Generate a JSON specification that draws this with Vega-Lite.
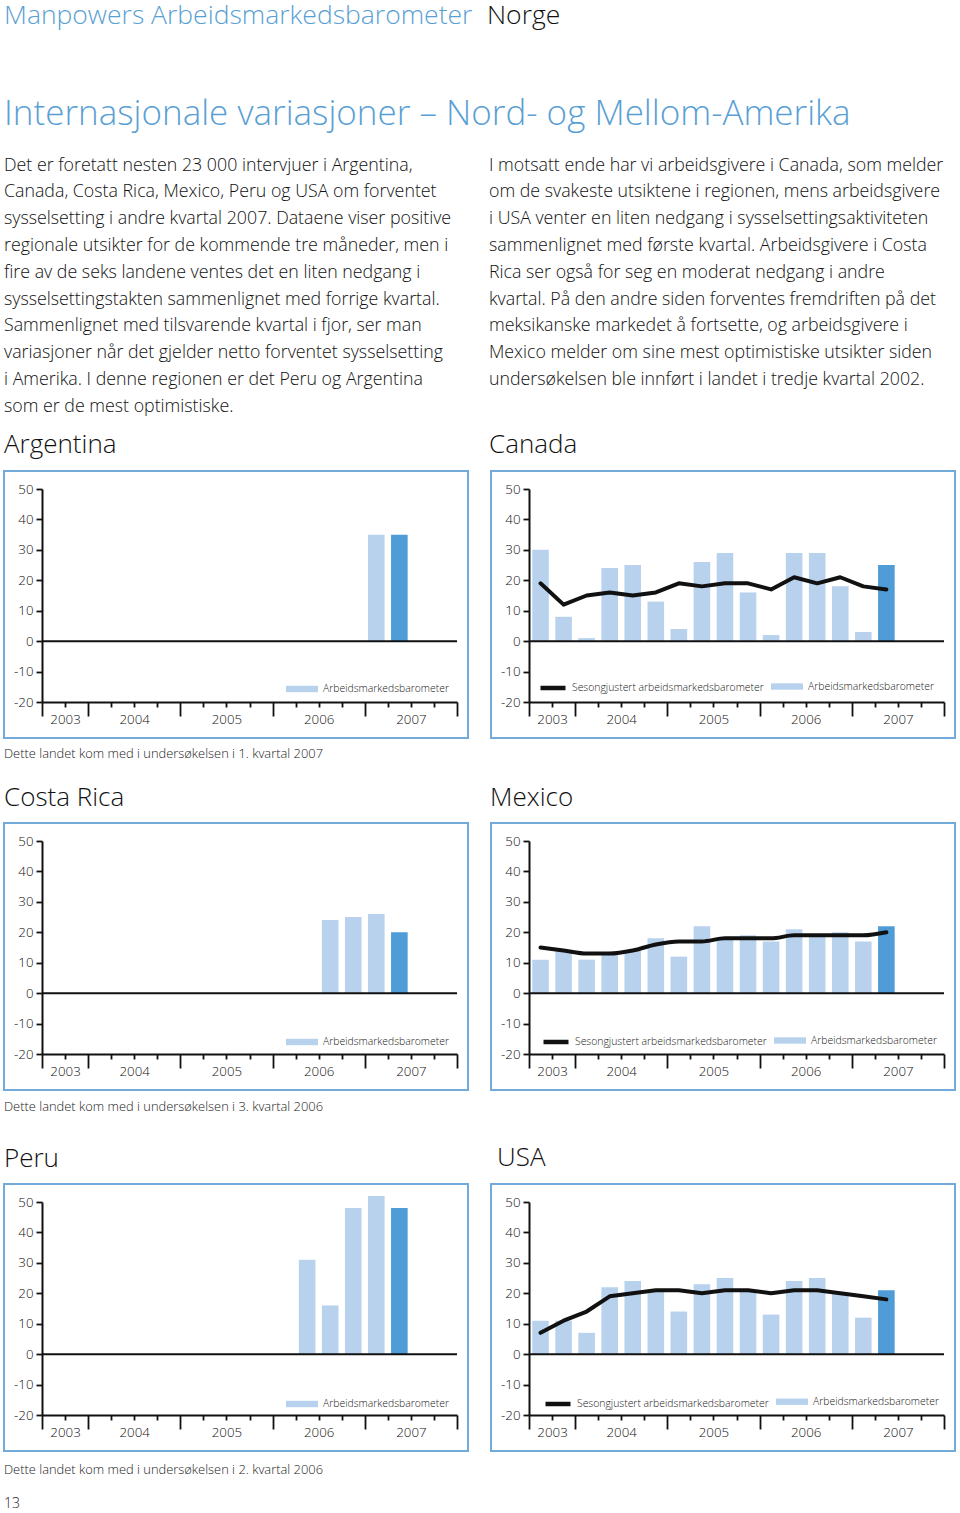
{
  "$schema": "https://vega.github.io/schema/vega-lite/v6.json",
  "background": "white",
  "padding": {"left": 3, "top": 3, "right": 0, "bottom": 0},
  "autosize": {"type": "pad"},
  "config": {
    "font": "Open Sans",
    "view": {"stroke": "#72abda", "strokeWidth": 2},
    "axis": {"grid": false, "domainColor": "#111111", "domainWidth": 2, "tickColor": "#111111", "tickWidth": 1.8, "labelFont": "Open Sans", "labelColor": "#111111", "labelFontSize": 13.3, "labelFontWeight": 300, "labelOverlap": false, "labelFlush": false, "labelBound": false, "title": null},
    "axisY": {"offset": -38, "tickSize": 6, "labelPadding": 3, "values": [-20, -10, 0, 10, 20, 30, 40, 50]},
    "axisX": {"offset": -36, "labelPadding": 5},
    "legend": {"labelFont": "Open Sans", "labelFontSize": 10.4, "labelColor": "#222222", "labelFontWeight": 300, "padding": 0, "labelLimit": 400}
  },
  "datasets": {
    "rows": [
      {"land": "Argentina", "kvartal": "2007K1", "barometer": 35, "type": "Arbeidsmarkedsbarometer"},
      {"land": "Argentina", "kvartal": "2007K2", "barometer": 35, "type": "Prognose"},
      {"land": "Costa Rica", "kvartal": "2006K3", "barometer": 24, "type": "Arbeidsmarkedsbarometer"},
      {"land": "Costa Rica", "kvartal": "2006K4", "barometer": 25, "type": "Arbeidsmarkedsbarometer"},
      {"land": "Costa Rica", "kvartal": "2007K1", "barometer": 26, "type": "Arbeidsmarkedsbarometer"},
      {"land": "Costa Rica", "kvartal": "2007K2", "barometer": 20, "type": "Prognose"},
      {"land": "Peru", "kvartal": "2006K2", "barometer": 31, "type": "Arbeidsmarkedsbarometer"},
      {"land": "Peru", "kvartal": "2006K3", "barometer": 16, "type": "Arbeidsmarkedsbarometer"},
      {"land": "Peru", "kvartal": "2006K4", "barometer": 48, "type": "Arbeidsmarkedsbarometer"},
      {"land": "Peru", "kvartal": "2007K1", "barometer": 52, "type": "Arbeidsmarkedsbarometer"},
      {"land": "Peru", "kvartal": "2007K2", "barometer": 48, "type": "Prognose"},
      {"land": "Canada", "kvartal": "2003K3", "barometer": 30, "sesongjustert": 19, "type": "Arbeidsmarkedsbarometer"},
      {"land": "Canada", "kvartal": "2003K4", "barometer": 8, "sesongjustert": 12, "type": "Arbeidsmarkedsbarometer"},
      {"land": "Canada", "kvartal": "2004K1", "barometer": 1, "sesongjustert": 15, "type": "Arbeidsmarkedsbarometer"},
      {"land": "Canada", "kvartal": "2004K2", "barometer": 24, "sesongjustert": 16, "type": "Arbeidsmarkedsbarometer"},
      {"land": "Canada", "kvartal": "2004K3", "barometer": 25, "sesongjustert": 15, "type": "Arbeidsmarkedsbarometer"},
      {"land": "Canada", "kvartal": "2004K4", "barometer": 13, "sesongjustert": 16, "type": "Arbeidsmarkedsbarometer"},
      {"land": "Canada", "kvartal": "2005K1", "barometer": 4, "sesongjustert": 19, "type": "Arbeidsmarkedsbarometer"},
      {"land": "Canada", "kvartal": "2005K2", "barometer": 26, "sesongjustert": 18, "type": "Arbeidsmarkedsbarometer"},
      {"land": "Canada", "kvartal": "2005K3", "barometer": 29, "sesongjustert": 19, "type": "Arbeidsmarkedsbarometer"},
      {"land": "Canada", "kvartal": "2005K4", "barometer": 16, "sesongjustert": 19, "type": "Arbeidsmarkedsbarometer"},
      {"land": "Canada", "kvartal": "2006K1", "barometer": 2, "sesongjustert": 17, "type": "Arbeidsmarkedsbarometer"},
      {"land": "Canada", "kvartal": "2006K2", "barometer": 29, "sesongjustert": 21, "type": "Arbeidsmarkedsbarometer"},
      {"land": "Canada", "kvartal": "2006K3", "barometer": 29, "sesongjustert": 19, "type": "Arbeidsmarkedsbarometer"},
      {"land": "Canada", "kvartal": "2006K4", "barometer": 18, "sesongjustert": 21, "type": "Arbeidsmarkedsbarometer"},
      {"land": "Canada", "kvartal": "2007K1", "barometer": 3, "sesongjustert": 18, "type": "Arbeidsmarkedsbarometer"},
      {"land": "Canada", "kvartal": "2007K2", "barometer": 25, "sesongjustert": 17, "type": "Prognose"},
      {"land": "Mexico", "kvartal": "2003K3", "barometer": 11, "sesongjustert": 15, "type": "Arbeidsmarkedsbarometer"},
      {"land": "Mexico", "kvartal": "2003K4", "barometer": 14, "sesongjustert": 14, "type": "Arbeidsmarkedsbarometer"},
      {"land": "Mexico", "kvartal": "2004K1", "barometer": 11, "sesongjustert": 13, "type": "Arbeidsmarkedsbarometer"},
      {"land": "Mexico", "kvartal": "2004K2", "barometer": 13, "sesongjustert": 13, "type": "Arbeidsmarkedsbarometer"},
      {"land": "Mexico", "kvartal": "2004K3", "barometer": 14, "sesongjustert": 14, "type": "Arbeidsmarkedsbarometer"},
      {"land": "Mexico", "kvartal": "2004K4", "barometer": 18, "sesongjustert": 16, "type": "Arbeidsmarkedsbarometer"},
      {"land": "Mexico", "kvartal": "2005K1", "barometer": 12, "sesongjustert": 17, "type": "Arbeidsmarkedsbarometer"},
      {"land": "Mexico", "kvartal": "2005K2", "barometer": 22, "sesongjustert": 17, "type": "Arbeidsmarkedsbarometer"},
      {"land": "Mexico", "kvartal": "2005K3", "barometer": 18, "sesongjustert": 18, "type": "Arbeidsmarkedsbarometer"},
      {"land": "Mexico", "kvartal": "2005K4", "barometer": 19, "sesongjustert": 18, "type": "Arbeidsmarkedsbarometer"},
      {"land": "Mexico", "kvartal": "2006K1", "barometer": 17, "sesongjustert": 18, "type": "Arbeidsmarkedsbarometer"},
      {"land": "Mexico", "kvartal": "2006K2", "barometer": 21, "sesongjustert": 19, "type": "Arbeidsmarkedsbarometer"},
      {"land": "Mexico", "kvartal": "2006K3", "barometer": 19, "sesongjustert": 19, "type": "Arbeidsmarkedsbarometer"},
      {"land": "Mexico", "kvartal": "2006K4", "barometer": 20, "sesongjustert": 19, "type": "Arbeidsmarkedsbarometer"},
      {"land": "Mexico", "kvartal": "2007K1", "barometer": 17, "sesongjustert": 19, "type": "Arbeidsmarkedsbarometer"},
      {"land": "Mexico", "kvartal": "2007K2", "barometer": 22, "sesongjustert": 20, "type": "Prognose"},
      {"land": "USA", "kvartal": "2003K3", "barometer": 11, "sesongjustert": 7, "type": "Arbeidsmarkedsbarometer"},
      {"land": "USA", "kvartal": "2003K4", "barometer": 11, "sesongjustert": 11, "type": "Arbeidsmarkedsbarometer"},
      {"land": "USA", "kvartal": "2004K1", "barometer": 7, "sesongjustert": 14, "type": "Arbeidsmarkedsbarometer"},
      {"land": "USA", "kvartal": "2004K2", "barometer": 22, "sesongjustert": 19, "type": "Arbeidsmarkedsbarometer"},
      {"land": "USA", "kvartal": "2004K3", "barometer": 24, "sesongjustert": 20, "type": "Arbeidsmarkedsbarometer"},
      {"land": "USA", "kvartal": "2004K4", "barometer": 21, "sesongjustert": 21, "type": "Arbeidsmarkedsbarometer"},
      {"land": "USA", "kvartal": "2005K1", "barometer": 14, "sesongjustert": 21, "type": "Arbeidsmarkedsbarometer"},
      {"land": "USA", "kvartal": "2005K2", "barometer": 23, "sesongjustert": 20, "type": "Arbeidsmarkedsbarometer"},
      {"land": "USA", "kvartal": "2005K3", "barometer": 25, "sesongjustert": 21, "type": "Arbeidsmarkedsbarometer"},
      {"land": "USA", "kvartal": "2005K4", "barometer": 21, "sesongjustert": 21, "type": "Arbeidsmarkedsbarometer"},
      {"land": "USA", "kvartal": "2006K1", "barometer": 13, "sesongjustert": 20, "type": "Arbeidsmarkedsbarometer"},
      {"land": "USA", "kvartal": "2006K2", "barometer": 24, "sesongjustert": 21, "type": "Arbeidsmarkedsbarometer"},
      {"land": "USA", "kvartal": "2006K3", "barometer": 25, "sesongjustert": 21, "type": "Arbeidsmarkedsbarometer"},
      {"land": "USA", "kvartal": "2006K4", "barometer": 20, "sesongjustert": 20, "type": "Arbeidsmarkedsbarometer"},
      {"land": "USA", "kvartal": "2007K1", "barometer": 12, "sesongjustert": 19, "type": "Arbeidsmarkedsbarometer"},
      {"land": "USA", "kvartal": "2007K2", "barometer": 21, "sesongjustert": 18, "type": "Prognose"}
    ]
  },
  "bounds": "flush",
  "align": "each",
  "columns": 2,
  "spacing": {"row": 0, "column": 23},
  "resolve": {"scale": {"fill": "independent", "stroke": "independent"}, "legend": {"fill": "independent", "stroke": "independent"}},
  "concat": [
    {"width": 464, "height": 107, "view": {"stroke": null}, "data": {"values": [{}]}, "mark": {"type": "rule", "opacity": 0}, "encoding": {},
     "title": {"text": "Manpowers Arbeidsmarkedsbarometer", "anchor": "start", "frame": "group", "font": "Open Sans", "fontSize": 26.5, "fontWeight": 300, "color": "#5a9fd4", "baseline": "alphabetic", "offset": 8}},
    {"width": 464, "height": 107, "view": {"stroke": null}, "data": {"values": [{}]}, "mark": {"type": "rule", "opacity": 0}, "encoding": {},
     "title": {"text": "Norge", "anchor": "start", "frame": "group", "font": "Open Sans", "fontSize": 26.5, "fontWeight": 300, "color": "#111111", "baseline": "alphabetic", "offset": 8, "dx": -4}},
    {"width": 464, "height": 305, "view": {"stroke": null}, "data": {"values": [{}]}, "mark": {"type": "rule", "opacity": 0}, "encoding": {},
     "title": {"text": "Internasjonale variasjoner – Nord- og Mellom-Amerika", "anchor": "start", "frame": "group", "font": "Open Sans", "fontSize": 35, "fontWeight": 300, "color": "#5a9fd4", "baseline": "alphabetic", "offset": 5.5}},
    {"width": 464, "height": 305, "view": {"stroke": null}, "data": {"values": [{}]}, "mark": {"type": "rule", "opacity": 0}, "encoding": {}},
    {
      "width": 464, "height": 267,
      "title": {"text": ["Det er foretatt nesten 23 000 intervjuer i Argentina,", "Canada, Costa Rica, Mexico, Peru og USA om forventet", "sysselsetting i andre kvartal 2007. Dataene viser positive", "regionale utsikter for de kommende tre måneder, men i", "fire av de seks landene ventes det en liten nedgang i", "sysselsettingstakten sammenlignet med forrige kvartal.", "Sammenlignet med tilsvarende kvartal i fjor, ser man", "variasjoner når det gjelder netto forventet sysselsetting", "i Amerika. I denne regionen er det Peru og Argentina", "som er de mest optimistiske."],
        "subtitle": "Argentina", "anchor": "start", "frame": "group", "font": "Open Sans", "fontSize": 17.8, "fontWeight": 300, "color": "#111111", "lineHeight": 26.8, "subtitleFont": "Open Sans", "subtitleFontSize": 26, "subtitleFontWeight": 300, "subtitleColor": "#111111", "subtitlePadding": 16.5, "offset": 13},
      "data": {"name": "rows"},
      "transform": [{"filter": "datum.land == 'Argentina'"}],
      "resolve": {"scale": {"x": "independent"}},
      "layer": [
        {"mark": {"type": "bar"},
         "encoding": {
           "x": {"field": "kvartal", "type": "ordinal", "scale": {"type": "band", "domain": ["2003K3","2003K4","2004K1","2004K2","2004K3","2004K4","2005K1","2005K2","2005K3","2005K4","2006K1","2006K2","2006K3","2006K4","2007K1","2007K2","2007K3","2007K4"], "range": [38, 453], "paddingInner": 0.28, "paddingOuter": 0.14}, "axis": null},
           "y": {"field": "barometer", "type": "quantitative", "scale": {"domain": [-20, 50], "range": [231, 18], "nice": false}, "axis": {"labelExpr": "datum.value < 0 ? '-' + abs(datum.value) : '' + datum.value"}},
           "fill": {"field": "type", "type": "nominal", "scale": {"domain": ["Arbeidsmarkedsbarometer", "Prognose"], "range": ["#b8d2ee", "#4f9cd7"]},
                    "legend": {"values": ["Arbeidsmarkedsbarometer"], "orient": "none", "legendX": 282, "legendY": 202, "title": null, "symbolType": "M-1,-0.2H1V0.2H-1Z", "symbolSize": 1024, "symbolStrokeWidth": 0, "labelOffset": 5}}
         }},
        {"data": {"values": [{}]}, "mark": {"type": "rule", "strokeWidth": 2, "color": "#111111"},
         "encoding": {
           "x": {"datum": 0, "type": "quantitative", "scale": {"domain": [0, 18], "range": [38, 453], "nice": false, "zero": false},
                 "axis": {"values": [0,1,2,3,4,5,6,7,8,9,10,11,12,13,14,15,16,17,18], "tickSize": {"condition": {"test": "indexof([0,2,6,10,14,18], datum.value) >= 0", "value": 14}, "value": 5}, "labelExpr": "datum.value == 1 ? '2003' : datum.value == 4 ? '2004' : datum.value == 8 ? '2005' : datum.value == 12 ? '2006' : datum.value == 16 ? '2007' : ''"}},
           "x2": {"datum": 18},
           "y": {"datum": 0, "type": "quantitative", "scale": {"domain": [-20, 50], "range": [231, 18], "nice": false}}
         }}
      ]
    },
    {
      "width": 464, "height": 267,
      "title": {"text": ["I motsatt ende har vi arbeidsgivere i Canada, som melder", "om de svakeste utsiktene i regionen, mens arbeidsgivere", "i USA venter en liten nedgang i sysselsettingsaktiviteten", "sammenlignet med første kvartal. Arbeidsgivere i Costa", "Rica ser også for seg en moderat nedgang i andre", "kvartal.  På den andre siden forventes fremdriften på det", "meksikanske markedet å fortsette, og arbeidsgivere i", "Mexico melder om sine mest optimistiske utsikter siden", "undersøkelsen ble innført i landet i tredje kvartal 2002.", " "],
        "subtitle": "Canada", "anchor": "start", "frame": "group", "font": "Open Sans", "fontSize": 17.8, "fontWeight": 300, "color": "#111111", "lineHeight": 26.8, "subtitleFont": "Open Sans", "subtitleFontSize": 26, "subtitleFontWeight": 300, "subtitleColor": "#111111", "subtitlePadding": 16.5, "offset": 13, "dx": -2},
      "data": {"name": "rows"},
      "transform": [{"filter": "datum.land == 'Canada'"}],
      "resolve": {"scale": {"x": "independent"}},
      "layer": [
        {"mark": {"type": "bar"},
         "encoding": {
           "x": {"field": "kvartal", "type": "ordinal", "scale": {"type": "band", "domain": ["2003K3","2003K4","2004K1","2004K2","2004K3","2004K4","2005K1","2005K2","2005K3","2005K4","2006K1","2006K2","2006K3","2006K4","2007K1","2007K2","2007K3","2007K4"], "range": [38, 453], "paddingInner": 0.28, "paddingOuter": 0.14}, "axis": null},
           "y": {"field": "barometer", "type": "quantitative", "scale": {"domain": [-20, 50], "range": [231, 18], "nice": false}, "axis": {"labelExpr": "datum.value < 0 ? '-' + abs(datum.value) : '' + datum.value"}},
           "fill": {"field": "type", "type": "nominal", "scale": {"domain": ["Arbeidsmarkedsbarometer", "Prognose"], "range": ["#b8d2ee", "#4f9cd7"]},
                    "legend": {"values": ["Arbeidsmarkedsbarometer"], "orient": "none", "legendX": 280, "legendY": 199.5, "title": null, "symbolType": "M-1,-0.2H1V0.2H-1Z", "symbolSize": 1024, "symbolStrokeWidth": 0, "labelOffset": 5}}
         }},
        {"mark": {"type": "line", "strokeWidth": 4, "strokeCap": "round", "strokeJoin": "round"},
         "transform": [{"filter": "isValid(datum.sesongjustert)"}],
         "encoding": {
           "x": {"field": "kvartal", "type": "ordinal", "scale": {"type": "band", "domain": ["2003K3","2003K4","2004K1","2004K2","2004K3","2004K4","2005K1","2005K2","2005K3","2005K4","2006K1","2006K2","2006K3","2006K4","2007K1","2007K2","2007K3","2007K4"], "range": [38, 453], "paddingInner": 0.28, "paddingOuter": 0.14}, "axis": null},
           "y": {"field": "sesongjustert", "type": "quantitative", "scale": {"domain": [-20, 50], "range": [231, 18], "nice": false}},
           "stroke": {"datum": "Sesongjustert arbeidsmarkedsbarometer", "scale": {"range": ["#111111"]},
                      "legend": {"orient": "none", "legendX": 47, "legendY": 202, "title": null, "symbolType": "M-1,0H1", "symbolSize": 625, "symbolStrokeWidth": 4.5, "labelOffset": 4}}
         }},
        {"data": {"values": [{}]}, "mark": {"type": "rule", "strokeWidth": 2, "color": "#111111"},
         "encoding": {
           "x": {"datum": 0, "type": "quantitative", "scale": {"domain": [0, 18], "range": [38, 453], "nice": false, "zero": false},
                 "axis": {"values": [0,1,2,3,4,5,6,7,8,9,10,11,12,13,14,15,16,17,18], "tickSize": {"condition": {"test": "indexof([0,2,6,10,14,18], datum.value) >= 0", "value": 14}, "value": 5}, "labelExpr": "datum.value == 1 ? '2003' : datum.value == 4 ? '2004' : datum.value == 8 ? '2005' : datum.value == 12 ? '2006' : datum.value == 16 ? '2007' : ''"}},
           "x2": {"datum": 18},
           "y": {"datum": 0, "type": "quantitative", "scale": {"domain": [-20, 50], "range": [231, 18], "nice": false}}
         }}
      ]
    },
    {"width": 464, "height": 85, "view": {"stroke": null}, "data": {"values": [{}]}, "mark": {"type": "rule", "opacity": 0}, "encoding": {}},
    {"width": 464, "height": 85, "view": {"stroke": null}, "data": {"values": [{}]}, "mark": {"type": "rule", "opacity": 0}, "encoding": {}},
    {
      "width": 464, "height": 267,
      "title": {"text": "Dette landet kom med i undersøkelsen i 1. kvartal 2007", "subtitle": "Costa Rica", "anchor": "start", "frame": "group", "font": "Open Sans", "fontSize": 12.9, "fontWeight": 300, "color": "#222222", "lineHeight": 16, "subtitleFont": "Open Sans", "subtitleFontSize": 26, "subtitleFontWeight": 300, "subtitleColor": "#111111", "subtitlePadding": 24.5, "offset": 12},
      "data": {"name": "rows"},
      "transform": [{"filter": "datum.land == 'Costa Rica'"}],
      "resolve": {"scale": {"x": "independent"}},
      "layer": [
        {"mark": {"type": "bar"},
         "encoding": {
           "x": {"field": "kvartal", "type": "ordinal", "scale": {"type": "band", "domain": ["2003K3","2003K4","2004K1","2004K2","2004K3","2004K4","2005K1","2005K2","2005K3","2005K4","2006K1","2006K2","2006K3","2006K4","2007K1","2007K2","2007K3","2007K4"], "range": [38, 453], "paddingInner": 0.28, "paddingOuter": 0.14}, "axis": null},
           "y": {"field": "barometer", "type": "quantitative", "scale": {"domain": [-20, 50], "range": [231, 18], "nice": false}, "axis": {"labelExpr": "datum.value < 0 ? '-' + abs(datum.value) : '' + datum.value"}},
           "fill": {"field": "type", "type": "nominal", "scale": {"domain": ["Arbeidsmarkedsbarometer", "Prognose"], "range": ["#b8d2ee", "#4f9cd7"]},
                    "legend": {"values": ["Arbeidsmarkedsbarometer"], "orient": "none", "legendX": 282, "legendY": 203, "title": null, "symbolType": "M-1,-0.2H1V0.2H-1Z", "symbolSize": 1024, "symbolStrokeWidth": 0, "labelOffset": 5}}
         }},
        {"data": {"values": [{}]}, "mark": {"type": "rule", "strokeWidth": 2, "color": "#111111"},
         "encoding": {
           "x": {"datum": 0, "type": "quantitative", "scale": {"domain": [0, 18], "range": [38, 453], "nice": false, "zero": false},
                 "axis": {"values": [0,1,2,3,4,5,6,7,8,9,10,11,12,13,14,15,16,17,18], "tickSize": {"condition": {"test": "indexof([0,2,6,10,14,18], datum.value) >= 0", "value": 14}, "value": 5}, "labelExpr": "datum.value == 1 ? '2003' : datum.value == 4 ? '2004' : datum.value == 8 ? '2005' : datum.value == 12 ? '2006' : datum.value == 16 ? '2007' : ''"}},
           "x2": {"datum": 18},
           "y": {"datum": 0, "type": "quantitative", "scale": {"domain": [-20, 50], "range": [231, 18], "nice": false}}
         }}
      ]
    },
    {
      "width": 464, "height": 267,
      "title": {"text": " ", "subtitle": "Mexico", "anchor": "start", "frame": "group", "font": "Open Sans", "fontSize": 12.9, "fontWeight": 300, "color": "#222222", "lineHeight": 16, "subtitleFont": "Open Sans", "subtitleFontSize": 26, "subtitleFontWeight": 300, "subtitleColor": "#111111", "subtitlePadding": 24.5, "offset": 12, "dx": -1},
      "data": {"name": "rows"},
      "transform": [{"filter": "datum.land == 'Mexico'"}],
      "resolve": {"scale": {"x": "independent"}},
      "layer": [
        {"mark": {"type": "bar"},
         "encoding": {
           "x": {"field": "kvartal", "type": "ordinal", "scale": {"type": "band", "domain": ["2003K3","2003K4","2004K1","2004K2","2004K3","2004K4","2005K1","2005K2","2005K3","2005K4","2006K1","2006K2","2006K3","2006K4","2007K1","2007K2","2007K3","2007K4"], "range": [38, 453], "paddingInner": 0.28, "paddingOuter": 0.14}, "axis": null},
           "y": {"field": "barometer", "type": "quantitative", "scale": {"domain": [-20, 50], "range": [231, 18], "nice": false}, "axis": {"labelExpr": "datum.value < 0 ? '-' + abs(datum.value) : '' + datum.value"}},
           "fill": {"field": "type", "type": "nominal", "scale": {"domain": ["Arbeidsmarkedsbarometer", "Prognose"], "range": ["#b8d2ee", "#4f9cd7"]},
                    "legend": {"values": ["Arbeidsmarkedsbarometer"], "orient": "none", "legendX": 283, "legendY": 201.5, "title": null, "symbolType": "M-1,-0.2H1V0.2H-1Z", "symbolSize": 1024, "symbolStrokeWidth": 0, "labelOffset": 5}}
         }},
        {"mark": {"type": "line", "strokeWidth": 4, "strokeCap": "round", "strokeJoin": "round", "interpolate": "monotone"},
         "transform": [{"filter": "isValid(datum.sesongjustert)"}],
         "encoding": {
           "x": {"field": "kvartal", "type": "ordinal", "scale": {"type": "band", "domain": ["2003K3","2003K4","2004K1","2004K2","2004K3","2004K4","2005K1","2005K2","2005K3","2005K4","2006K1","2006K2","2006K3","2006K4","2007K1","2007K2","2007K3","2007K4"], "range": [38, 453], "paddingInner": 0.28, "paddingOuter": 0.14}, "axis": null},
           "y": {"field": "sesongjustert", "type": "quantitative", "scale": {"domain": [-20, 50], "range": [231, 18], "nice": false}},
           "stroke": {"datum": "Sesongjustert arbeidsmarkedsbarometer", "scale": {"range": ["#111111"]},
                      "legend": {"orient": "none", "legendX": 50, "legendY": 204, "title": null, "symbolType": "M-1,0H1", "symbolSize": 625, "symbolStrokeWidth": 4.5, "labelOffset": 4}}
         }},
        {"data": {"values": [{}]}, "mark": {"type": "rule", "strokeWidth": 2, "color": "#111111"},
         "encoding": {
           "x": {"datum": 0, "type": "quantitative", "scale": {"domain": [0, 18], "range": [38, 453], "nice": false, "zero": false},
                 "axis": {"values": [0,1,2,3,4,5,6,7,8,9,10,11,12,13,14,15,16,17,18], "tickSize": {"condition": {"test": "indexof([0,2,6,10,14,18], datum.value) >= 0", "value": 14}, "value": 5}, "labelExpr": "datum.value == 1 ? '2003' : datum.value == 4 ? '2004' : datum.value == 8 ? '2005' : datum.value == 12 ? '2006' : datum.value == 16 ? '2007' : ''"}},
           "x2": {"datum": 18},
           "y": {"datum": 0, "type": "quantitative", "scale": {"domain": [-20, 50], "range": [231, 18], "nice": false}}
         }}
      ]
    },
    {"width": 464, "height": 94, "view": {"stroke": null}, "data": {"values": [{}]}, "mark": {"type": "rule", "opacity": 0}, "encoding": {}},
    {"width": 464, "height": 94, "view": {"stroke": null}, "data": {"values": [{}]}, "mark": {"type": "rule", "opacity": 0}, "encoding": {}},
    {
      "width": 464, "height": 267,
      "title": {"text": "Dette landet kom med i undersøkelsen i 3. kvartal 2006", "subtitle": "Peru", "anchor": "start", "frame": "group", "font": "Open Sans", "fontSize": 12.9, "fontWeight": 300, "color": "#222222", "lineHeight": 16, "subtitleFont": "Open Sans", "subtitleFontSize": 26, "subtitleFontWeight": 300, "subtitleColor": "#111111", "subtitlePadding": 32.5, "offset": 12},
      "data": {"name": "rows"},
      "transform": [{"filter": "datum.land == 'Peru'"}],
      "resolve": {"scale": {"x": "independent"}},
      "layer": [
        {"mark": {"type": "bar"},
         "encoding": {
           "x": {"field": "kvartal", "type": "ordinal", "scale": {"type": "band", "domain": ["2003K3","2003K4","2004K1","2004K2","2004K3","2004K4","2005K1","2005K2","2005K3","2005K4","2006K1","2006K2","2006K3","2006K4","2007K1","2007K2","2007K3","2007K4"], "range": [38, 453], "paddingInner": 0.28, "paddingOuter": 0.14}, "axis": null},
           "y": {"field": "barometer", "type": "quantitative", "scale": {"domain": [-20, 50], "range": [231, 18], "nice": false}, "axis": {"labelExpr": "datum.value < 0 ? '-' + abs(datum.value) : '' + datum.value"}},
           "fill": {"field": "type", "type": "nominal", "scale": {"domain": ["Arbeidsmarkedsbarometer", "Prognose"], "range": ["#b8d2ee", "#4f9cd7"]},
                    "legend": {"values": ["Arbeidsmarkedsbarometer"], "orient": "none", "legendX": 282, "legendY": 204, "title": null, "symbolType": "M-1,-0.2H1V0.2H-1Z", "symbolSize": 1024, "symbolStrokeWidth": 0, "labelOffset": 5}}
         }},
        {"data": {"values": [{}]}, "mark": {"type": "rule", "strokeWidth": 2, "color": "#111111"},
         "encoding": {
           "x": {"datum": 0, "type": "quantitative", "scale": {"domain": [0, 18], "range": [38, 453], "nice": false, "zero": false},
                 "axis": {"values": [0,1,2,3,4,5,6,7,8,9,10,11,12,13,14,15,16,17,18], "tickSize": {"condition": {"test": "indexof([0,2,6,10,14,18], datum.value) >= 0", "value": 14}, "value": 5}, "labelExpr": "datum.value == 1 ? '2003' : datum.value == 4 ? '2004' : datum.value == 8 ? '2005' : datum.value == 12 ? '2006' : datum.value == 16 ? '2007' : ''"}},
           "x2": {"datum": 18},
           "y": {"datum": 0, "type": "quantitative", "scale": {"domain": [-20, 50], "range": [231, 18], "nice": false}}
         }}
      ]
    },
    {
      "width": 464, "height": 267,
      "title": {"text": " ", "subtitle": "USA", "anchor": "start", "frame": "group", "font": "Open Sans", "fontSize": 12.9, "fontWeight": 300, "color": "#222222", "lineHeight": 16, "subtitleFont": "Open Sans", "subtitleFontSize": 26, "subtitleFontWeight": 300, "subtitleColor": "#111111", "subtitlePadding": 32.5, "offset": 13, "dx": 6},
      "data": {"name": "rows"},
      "transform": [{"filter": "datum.land == 'USA'"}],
      "resolve": {"scale": {"x": "independent"}},
      "layer": [
        {"mark": {"type": "bar"},
         "encoding": {
           "x": {"field": "kvartal", "type": "ordinal", "scale": {"type": "band", "domain": ["2003K3","2003K4","2004K1","2004K2","2004K3","2004K4","2005K1","2005K2","2005K3","2005K4","2006K1","2006K2","2006K3","2006K4","2007K1","2007K2","2007K3","2007K4"], "range": [38, 453], "paddingInner": 0.28, "paddingOuter": 0.14}, "axis": null},
           "y": {"field": "barometer", "type": "quantitative", "scale": {"domain": [-20, 50], "range": [231, 18], "nice": false}, "axis": {"labelExpr": "datum.value < 0 ? '-' + abs(datum.value) : '' + datum.value"}},
           "fill": {"field": "type", "type": "nominal", "scale": {"domain": ["Arbeidsmarkedsbarometer", "Prognose"], "range": ["#b8d2ee", "#4f9cd7"]},
                    "legend": {"values": ["Arbeidsmarkedsbarometer"], "orient": "none", "legendX": 285, "legendY": 201.7, "title": null, "symbolType": "M-1,-0.2H1V0.2H-1Z", "symbolSize": 1024, "symbolStrokeWidth": 0, "labelOffset": 5}}
         }},
        {"mark": {"type": "line", "strokeWidth": 4, "strokeCap": "round", "strokeJoin": "round"},
         "transform": [{"filter": "isValid(datum.sesongjustert)"}],
         "encoding": {
           "x": {"field": "kvartal", "type": "ordinal", "scale": {"type": "band", "domain": ["2003K3","2003K4","2004K1","2004K2","2004K3","2004K4","2005K1","2005K2","2005K3","2005K4","2006K1","2006K2","2006K3","2006K4","2007K1","2007K2","2007K3","2007K4"], "range": [38, 453], "paddingInner": 0.28, "paddingOuter": 0.14}, "axis": null},
           "y": {"field": "sesongjustert", "type": "quantitative", "scale": {"domain": [-20, 50], "range": [231, 18], "nice": false}},
           "stroke": {"datum": "Sesongjustert arbeidsmarkedsbarometer", "scale": {"range": ["#111111"]},
                      "legend": {"orient": "none", "legendX": 52, "legendY": 205, "title": null, "symbolType": "M-1,0H1", "symbolSize": 625, "symbolStrokeWidth": 4.5, "labelOffset": 4}}
         }},
        {"data": {"values": [{}]}, "mark": {"type": "rule", "strokeWidth": 2, "color": "#111111"},
         "encoding": {
           "x": {"datum": 0, "type": "quantitative", "scale": {"domain": [0, 18], "range": [38, 453], "nice": false, "zero": false},
                 "axis": {"values": [0,1,2,3,4,5,6,7,8,9,10,11,12,13,14,15,16,17,18], "tickSize": {"condition": {"test": "indexof([0,2,6,10,14,18], datum.value) >= 0", "value": 14}, "value": 5}, "labelExpr": "datum.value == 1 ? '2003' : datum.value == 4 ? '2004' : datum.value == 8 ? '2005' : datum.value == 12 ? '2006' : datum.value == 16 ? '2007' : ''"}},
           "x2": {"datum": 18},
           "y": {"datum": 0, "type": "quantitative", "scale": {"domain": [-20, 50], "range": [231, 18], "nice": false}}
         }}
      ]
    },
    {"width": 464, "height": 1, "view": {"stroke": null}, "data": {"values": [{}]}, "mark": {"type": "rule", "opacity": 0}, "encoding": {},
     "title": {"text": "Dette landet kom med i undersøkelsen i 2. kvartal 2006", "subtitle": "13", "orient": "bottom", "anchor": "start", "frame": "group", "font": "Open Sans", "fontSize": 12.9, "fontWeight": 300, "color": "#222222", "subtitleFont": "Open Sans", "subtitleFontSize": 14, "subtitleFontWeight": 300, "subtitleColor": "#222222", "subtitlePadding": 20, "offset": 12}},
    {"width": 464, "height": 1, "view": {"stroke": null}, "data": {"values": [{}]}, "mark": {"type": "rule", "opacity": 0}, "encoding": {}}
  ]
}
